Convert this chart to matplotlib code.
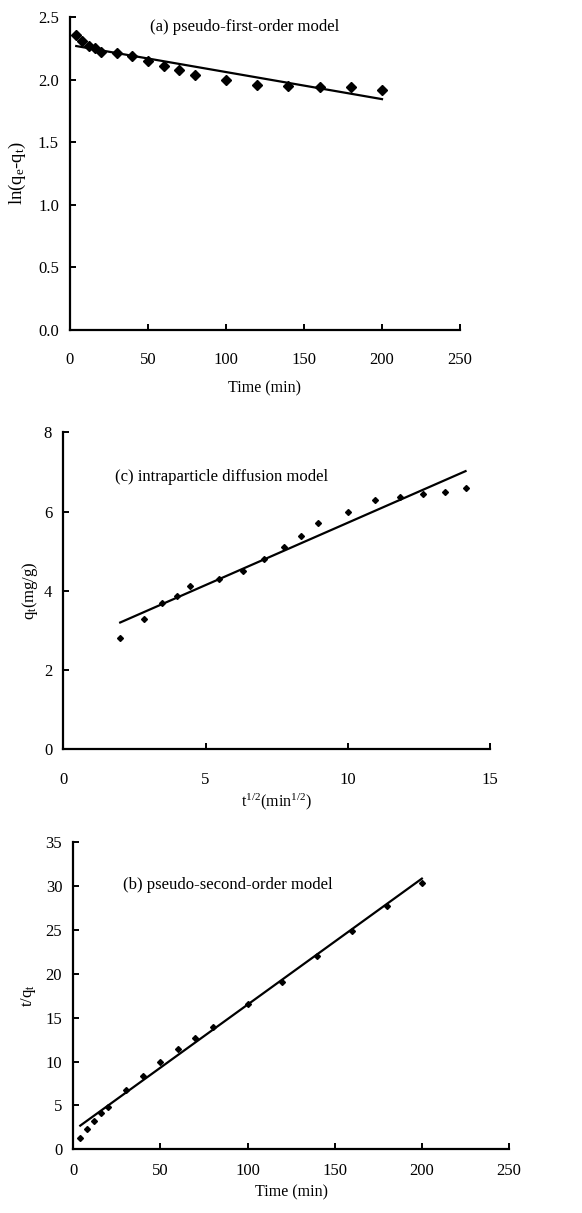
import numpy as np
import matplotlib
matplotlib.use("Agg")
import matplotlib.pyplot as plt

plt.rcParams["font.family"] = ["Liberation Serif", "DejaVu Serif"]
plt.rcParams["mathtext.fontset"] = "custom"
plt.rcParams["mathtext.rm"] = "Liberation Serif"
plt.rcParams["mathtext.it"] = "Liberation Serif:italic"

# sampling times (min)
time_min = [4, 8, 12, 16, 20, 30, 40, 50, 60, 70, 80, 100, 120, 140, 160, 180, 200]
sqrt_t = [2.0, 2.83, 3.46, 4.0, 4.47, 5.48, 6.32, 7.07, 7.75, 8.37, 8.94,
          10.0, 10.95, 11.83, 12.65, 13.42, 14.14]

# (a) pseudo-first-order: ln(qe-qt)
ln_qe_qt = [2.36, 2.31, 2.27, 2.25, 2.22, 2.21, 2.19, 2.15, 2.11, 2.08, 2.04,
            2.00, 1.96, 1.95, 1.94, 1.94, 1.92]
fit_a_x = [4, 200]
fit_a_y = [2.268, 1.844]

# (c) intraparticle diffusion: qt (mg/g)
qt = [2.80, 3.29, 3.68, 3.88, 4.11, 4.31, 4.51, 4.79, 5.11, 5.39, 5.70,
      5.99, 6.30, 6.36, 6.44, 6.50, 6.59]
fit_c_x = [2.0, 14.14]
fit_c_y = [3.20, 7.02]

# (b) pseudo-second-order: t/qt
t_over_qt = [1.33, 2.36, 3.23, 4.10, 4.87, 6.73, 8.36, 9.96, 11.48, 12.73, 13.95,
             16.61, 19.12, 22.01, 24.86, 27.75, 30.33]
fit_b_x = [4, 200]
fit_b_y = [2.70, 30.86]

W, H = 582, 1213
fig = plt.figure(figsize=(W / 100, H / 100), dpi=100)


def style(ax, xlim, ylim, xticks, yticks, xfmt, yfmt, xpad, ypad):
    ax.set_xlim(*xlim)
    ax.set_ylim(*ylim)
    ax.set_xticks(xticks)
    ax.set_yticks(yticks)
    ax.set_xticklabels([xfmt.format(v) for v in xticks])
    ax.set_yticklabels([yfmt.format(v) for v in yticks])
    for s in ["top", "right"]:
        ax.spines[s].set_visible(False)
    for s in ["left", "bottom"]:
        ax.spines[s].set_linewidth(1.6)
    ax.tick_params(axis="both", direction="in", length=4, width=1.4,
                   labelsize=12)
    ax.tick_params(axis="x", pad=xpad)
    ax.tick_params(axis="y", pad=ypad)


# (a)
ax1 = fig.add_axes([70 / W, 1 - 330 / H, 390 / W, 313 / H])
ax1.plot(time_min, ln_qe_qt, "D", color="black", markersize=5, clip_on=False)
ax1.plot(fit_a_x, fit_a_y, "-", color="black", linewidth=1.6)
style(ax1, (0, 250), (0, 2.5), [0, 50, 100, 150, 200, 250],
      [0, 0.5, 1.0, 1.5, 2.0, 2.5], "{:g}", "{:.1f}", 16, 8)
ax1.text(51, 2.42, "(a) pseudo-first-order model", fontsize=12, va="center")
ax1.set_xlabel("Time (min)", fontsize=11.5, labelpad=9)
ax1.set_ylabel(r"ln(q$_\mathregular{e}$-q$_\mathregular{t}$)", fontsize=13.5,
               labelpad=7)

# (c)
ax2 = fig.add_axes([63.3 / W, 1 - 749.3 / H, 426.7 / W, 317 / H])
ax2.plot(sqrt_t, qt, "D", color="black", markersize=3, clip_on=False)
ax2.plot(fit_c_x, fit_c_y, "-", color="black", linewidth=1.6)
style(ax2, (0, 15), (0, 8), [0, 5, 10, 15], [0, 2, 4, 6, 8],
      "{:g}", "{:g}", 16, 8)
ax2.text(1.82, 6.88, "(c) intraparticle diffusion model", fontsize=12,
         va="center")
ax2.set_xlabel(r"t$^\mathregular{1/2}$(min$^\mathregular{1/2}$)", fontsize=11.5,
               labelpad=3)
ax2.set_ylabel(r"q$_\mathregular{t}$(mg/g)", fontsize=12, labelpad=3)

# (b)
ax3 = fig.add_axes([73.3 / W, 1 - 1149.3 / H, 435.7 / W, 307 / H])
ax3.plot(time_min, t_over_qt, "D", color="black", markersize=3, clip_on=False)
ax3.plot(fit_b_x, fit_b_y, "-", color="black", linewidth=1.6)
style(ax3, (0, 250), (0, 35), [0, 50, 100, 150, 200, 250],
      [0, 5, 10, 15, 20, 25, 30, 35], "{:g}", "{:g}", 10, 8)
ax3.text(28.7, 30.1, "(b) pseudo-second-order model", fontsize=12,
         va="center")
ax3.set_xlabel("Time (min)", fontsize=11.5, labelpad=4)
ax3.set_ylabel(r"t/q$_\mathregular{t}$", fontsize=12, labelpad=5)

fig.savefig("out.png", dpi=100)
